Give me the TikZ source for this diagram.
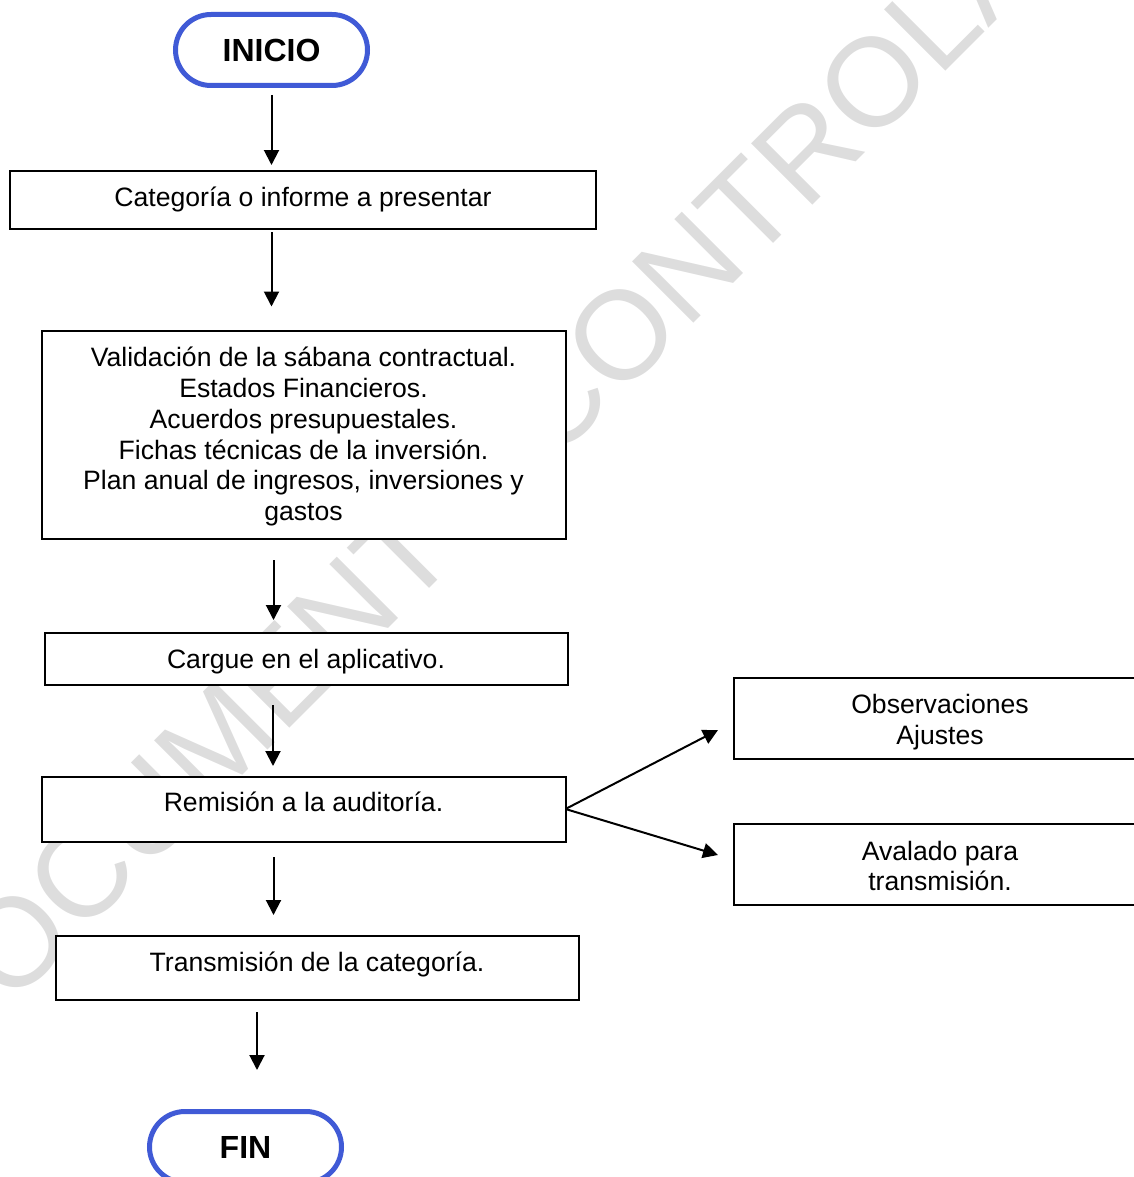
\documentclass[tikz,border=0pt]{standalone}
\usepackage{fontspec}
\setmainfont{Liberation Sans}
\usepackage{tikz}
\usetikzlibrary{arrows.meta}
\definecolor{azulinicio}{RGB}{64,90,214}
\definecolor{marcaagua}{RGB}{221,221,221}

\begin{document}
\begin{tikzpicture}[x=0.5pt,y=-0.5pt,
	terminal/.style={draw=azulinicio,line width=2.5pt,fill=white,rounded corners=17.75pt,minimum width=96pt,minimum height=35.5pt,inner sep=0pt,outer sep=0pt,font=\fontsize{16}{19}\selectfont\bfseries},
	caja/.style={draw=black,line width=1pt,fill=white,inner sep=0pt,outer sep=0pt,font=\fontsize{13.3}{15.4}\selectfont},
	cajauna/.style={caja,text height=9.6pt,text depth=0pt},
	cajavarias/.style={caja,align=center},
	flecha/.style={line width=1pt,-{Triangle[length=7.5pt,width=7.5pt]}}]
	\useasboundingbox (0,0) rectangle (1134,1177);
	% marca de agua al fondo
	\node[text=marcaagua,rotate=45,inner sep=0pt,font=\fontsize{63}{70}\selectfont] (marca) at (533,423) {DOCUMENTO CONTROLADO};
	
	\node[terminal] (inicio) at (271.5,50) {INICIO};
	\node[cajauna,minimum width=293pt,minimum height=29pt,text depth=3.5pt] (categoria) at (303,200) {Categoría o informe a presentar};
	\node[cajavarias,minimum width=262pt,minimum height=104pt] (validacion) at (303.5,434.5)
	{\rule{0pt}{12pt}Validación de la sábana contractual.\\
		Estados Financieros.\\
		Acuerdos presupuestales.\\
		Fichas técnicas de la inversión.\\
		Plan anual de ingresos, inversiones y\\
		gastos};
	\node[cajauna,minimum width=261.5pt,minimum height=26pt] (cargue) at (306,658.5) {Cargue en el aplicativo.};
	\node[cajauna,minimum width=262pt,minimum height=32.5pt,text depth=7.5pt] (remision) at (303.5,809) {Remisión a la auditoría.};
	\node[cajauna,minimum width=261.5pt,minimum height=32pt,text depth=6pt] (transmision) at (317,967.5) {Transmisión de la categoría.};
	\node[terminal] (fin) at (245.5,1147) {FIN};
	
	\node[cajavarias,minimum width=206pt,minimum height=40.5pt] (observaciones) at (940,718) {\rule{0pt}{13.8pt}Observaciones\\Ajustes};
	\node[cajavarias,minimum width=206pt,minimum height=40.5pt] (avalado) at (940,864) {\rule{0pt}{11.7pt}Avalado para\\transmisión.};
	
	% flujo principal
	\draw[flecha,shorten <=4.75pt,shorten >=3pt] (inicio.south) -- (inicio.south |- categoria.north);
	\draw[flecha,shorten <=1.5pt,shorten >=12pt] (inicio.south |- categoria.south) -- (inicio.south |- validacion.north);
	\draw[flecha,shorten <=10.75pt,shorten >=6.25pt] ([xshift=-15pt]validacion.south) -- ([xshift=-15pt]validacion.south |- cargue.north);
	\draw[flecha,shorten <=10.25pt,shorten >=5.25pt] ([xshift=-16.5pt]cargue.south) -- ([xshift=-16.5pt]cargue.south |- remision.north);
	\draw[flecha,shorten <=7.75pt,shorten >=10.25pt] ([xshift=-15pt]remision.south) -- ([xshift=-15pt]remision.south |- transmision.north);
	\draw[flecha,shorten <=6.25pt,shorten >=20.75pt] ([xshift=-30pt]transmision.south) -- ([xshift=-30pt]transmision.south |- fin.north);
	
	% respuestas de la auditoria
	\draw[flecha,shorten >=9pt] (remision.east) -- ([yshift=-1.85pt]observaciones.west);
	\draw[flecha,shorten >=8.35pt] (remision.east) -- ([yshift=2.1pt]avalado.west);
\end{tikzpicture}
\end{document}
